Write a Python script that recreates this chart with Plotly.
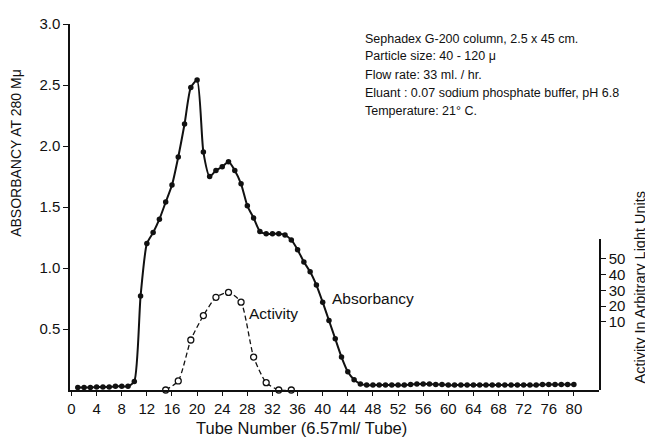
import plotly.graph_objects as go

# ---- data ----
tubes = list(range(1, 81))
absorbancy = [
    0.02, 0.02, 0.02, 0.025, 0.025, 0.025, 0.03, 0.03, 0.03, 0.07,   # 1-10
    0.77, 1.20, 1.29, 1.40, 1.54, 1.68, 1.91, 2.18, 2.48, 2.54,      # 11-20
    1.95, 1.75, 1.80, 1.83, 1.87, 1.80, 1.69, 1.51, 1.41, 1.30,      # 21-30
    1.28, 1.28, 1.28, 1.27, 1.23, 1.15, 1.05, 0.97, 0.86, 0.72,      # 31-40
    0.57, 0.42, 0.27, 0.15, 0.085, 0.05, 0.04, 0.04, 0.04, 0.04,     # 41-50
    0.04, 0.04, 0.04, 0.045, 0.05, 0.05, 0.05, 0.045, 0.045, 0.04,   # 51-60
    0.04, 0.04, 0.04, 0.04, 0.04, 0.04, 0.04, 0.04, 0.04, 0.04,      # 61-70
    0.04, 0.04, 0.04, 0.04, 0.045, 0.045, 0.045, 0.045, 0.045, 0.045 # 71-80
]
activity_tubes = [15, 17, 19, 21, 23, 25, 27, 29, 31, 33, 35]
# activity as plotted on the absorbancy scale of the figure
activity_scaled = [0.0, 0.074, 0.41, 0.61, 0.76, 0.80, 0.72, 0.27, 0.06, 0.0, 0.0]

x_ticks = list(range(0, 81, 4))
y_ticks = [0.5, 1.0, 1.5, 2.0, 2.5, 3.0]
y_ticktext = ["0.5", "1.0", "1.5", "2.0", "2.5", "3.0"]
y2_ticks = [10, 20, 30, 40, 50]

info_lines = [
    "Sephadex G-200 column, 2.5 x 45 cm.",
    "Particle size: 40 - 120 \u03bc",
    "Flow rate: 33 ml. / hr.",
    "Eluant : 0.07 sodium phosphate buffer, pH 6.8",
    "Temperature: 21\u00b0 C.",
]

FONT = "Liberation Sans"
INK = "#111111"

fig = go.Figure()
fig.add_trace(go.Scatter(
    x=tubes, y=absorbancy, mode="lines+markers",
    line=dict(color=INK, width=2, shape="spline", smoothing=0.6),
    marker=dict(color=INK, size=5.5, symbol="circle"),
    showlegend=False, cliponaxis=False,
))
fig.add_trace(go.Scatter(
    x=activity_tubes, y=activity_scaled, mode="lines+markers",
    line=dict(color=INK, width=1.3, dash="5px,3px", shape="spline", smoothing=0.6),
    marker=dict(color="white", size=6, symbol="circle",
                line=dict(color=INK, width=1.3)),
    showlegend=False, cliponaxis=False,
))
# empty trace so that the secondary (right) axis is drawn
fig.add_trace(go.Scatter(x=[], y=[], yaxis="y2", showlegend=False, hoverinfo="skip"))

# the page body has an 8px default margin, so the figure is 8px smaller
fig.update_layout(
    width=645, height=430,
    margin=dict(l=62, r=54, t=7, b=48),
    paper_bgcolor="white", plot_bgcolor="rgba(0,0,0,0)",
    font=dict(family=FONT, color=INK, size=15),
    xaxis=dict(
        range=[-0.24, 84.0], tickvals=x_ticks, showgrid=False, zeroline=False,
        showline=True, linecolor=INK, linewidth=1.5, ticks="outside",
        ticklen=4, tickcolor=INK, tickfont=dict(size=15, family=FONT),
    ),
    yaxis=dict(
        range=[0, 3.0], tickvals=y_ticks, ticktext=y_ticktext,
        showgrid=False, zeroline=False, ticklabeloverflow="allow",
        showline=True, linecolor=INK, linewidth=1.5, ticks="outside",
        ticklen=5, tickcolor=INK, tickfont=dict(size=15, family=FONT),
    ),
    yaxis2=dict(
        domain=[0, 0.4133], anchor="x", side="right",
        range=[-33.1, 62.6], tickvals=y2_ticks, showgrid=False, zeroline=False,
        showline=True, linecolor=INK, linewidth=1.5, ticks="outside",
        ticklen=5, tickcolor=INK, tickfont=dict(size=15, family=FONT),
    ),
)

annotations = [
    dict(text="ABSORBANCY AT 280 M\u03bc", xref="paper", yref="paper",
         x=-0.102, y=0.648, xanchor="center", yanchor="middle",
         textangle=-90, showarrow=False,
         font=dict(size=14, family=FONT, color=INK)),
    dict(text="Activity In Arbitrary Light Units", xref="paper", yref="paper",
         x=1.077, y=0.282, xanchor="center", yanchor="middle",
         textangle=-90, showarrow=False,
         font=dict(size=14.5, family=FONT, color=INK)),
    dict(text="Tube Number (6.57ml/ Tube)", xref="paper", yref="paper",
         x=0.4367, y=-0.104, xanchor="center", yanchor="middle", showarrow=False,
         font=dict(size=16.5, family=FONT, color=INK)),
    dict(text="Activity", xref="x", yref="y", x=32.2, y=0.624,
         xanchor="center", yanchor="middle", showarrow=False,
         font=dict(size=15.5, family=FONT, color=INK)),
    dict(text="Absorbancy", xref="x", yref="y", x=48.0, y=0.75,
         xanchor="center", yanchor="middle", showarrow=False,
         font=dict(size=15.5, family=FONT, color=INK)),
]
line_y = [0.96, 0.912, 0.861, 0.811, 0.763]
for txt, yy in zip(info_lines, line_y):
    annotations.append(dict(text=txt, xref="paper", yref="paper", x=0.554, y=yy,
                            xanchor="left", yanchor="middle", showarrow=False,
                            font=dict(size=12.5, family=FONT, color=INK)))
fig.update_layout(annotations=annotations)

fig.write_html("out.html")
